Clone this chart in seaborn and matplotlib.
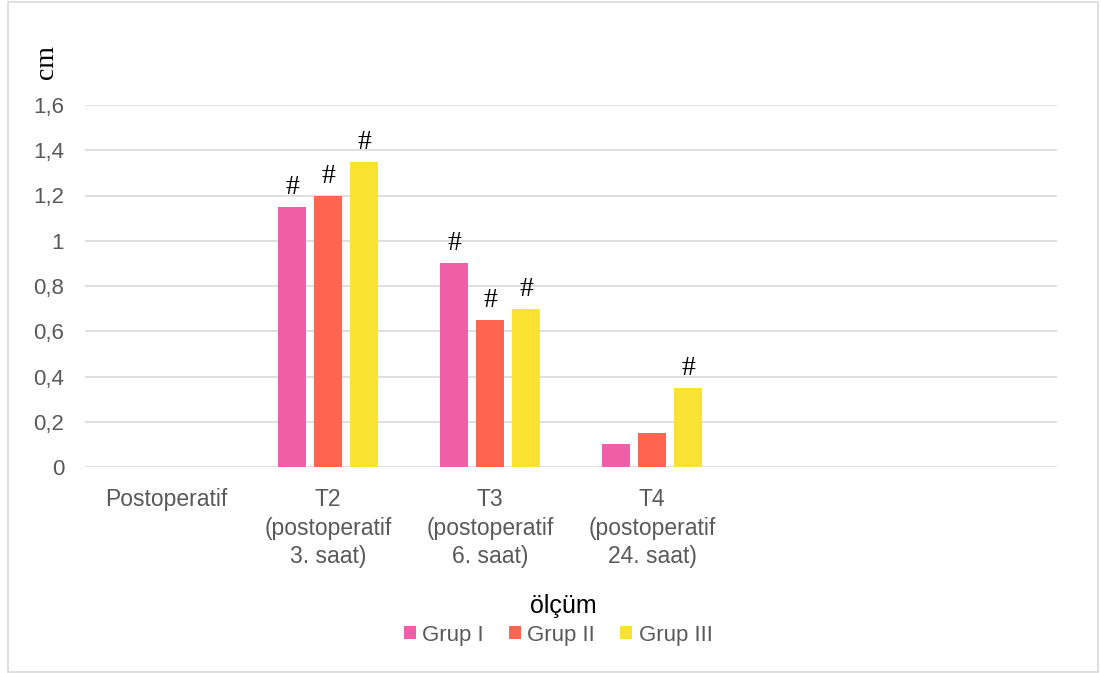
import matplotlib
matplotlib.use("Agg")
import matplotlib.pyplot as plt
from matplotlib.patches import Rectangle
import seaborn as sns
import pandas as pd

# Measurement times (two trailing empty slots on the category axis)
categories = [
    "Postoperatif",
    "T2\n(postoperatif\n3. saat)",
    "T3\n(postoperatif\n6. saat)",
    "T4\n(postoperatif\n24. saat)",
    " ",
    "  ",
]
measured = categories[:4]
groups = ["Grup I", "Grup II", "Grup III"]

grup1 = [0.0, 1.15, 0.90, 0.10]
grup2 = [0.0, 1.20, 0.65, 0.15]
grup3 = [0.0, 1.35, 0.70, 0.35]

# significance marks (#) per group and time point
sig1 = [False, True, True, False]
sig2 = [False, True, True, False]
sig3 = [False, True, True, True]

yticks = [0, 0.2, 0.4, 0.6, 0.8, 1.0, 1.2, 1.4, 1.6]
colors = ["#EF5FA7", "#FF6550", "#F9E231"]

rows = []
for g, vals in zip(groups, [grup1, grup2, grup3]):
    for c, v in zip(measured, vals):
        rows.append({"olcum": c, "grup": g, "cm": v})
df = pd.DataFrame(rows)

sns.set_theme(style="white")
plt.rcParams["font.family"] = ["Liberation Sans", "DejaVu Sans"]

W, H = 1101, 673
fig = plt.figure(figsize=(W / 100, H / 100), dpi=100)
ax = fig.add_axes([85 / W, 1 - 467 / H, (1057 - 85) / W, (467 - 105) / H])

sns.barplot(
    data=df, x="olcum", y="cm", hue="grup", order=categories,
    hue_order=groups, palette=colors, saturation=1, width=0.667, gap=0.2,
    linewidth=0, errorbar=None, legend=False, ax=ax, zorder=3,
)

ax.set_xlim(-0.5, len(categories) - 0.5)
ax.set_ylim(0, 1.6)
ax.set_yticks(yticks)
ax.set_yticklabels([f"{v:g}".replace(".", ",") for v in yticks])
ax.yaxis.grid(True, color="#D9D9D9", linewidth=1.2, zorder=0)
ax.xaxis.grid(False)
for s in ax.spines.values():
    s.set_visible(False)
ax.set_axisbelow(True)
ax.tick_params(axis="both", length=0, labelcolor="#595959")
ax.tick_params(axis="y", pad=15, labelsize=16)
ax.tick_params(axis="x", pad=15, labelsize=16.5)
for lbl in ax.get_xticklabels():
    lbl.set_linespacing(1.32)
ax.set_xlabel("")
ax.set_ylabel("")

# "#" marks above significant bars
for cont, flags in zip(ax.containers, [sig1, sig2, sig3]):
    for bar, flag in zip(cont.patches, flags):
        if flag:
            ax.annotate(
                "#", (bar.get_x() + bar.get_width() / 2, bar.get_height()),
                xytext=(0, 5), textcoords="offset points",
                ha="center", va="bottom", fontsize=20,
                family="Liberation Serif", color="black",
            )

# axis titles
fig.text(46 / W, 1 - 62 / H, "cm", rotation=90, ha="center", va="center",
         fontsize=20, family="Liberation Serif", color="black")
fig.text(563 / W, 1 - 606 / H, "ölçüm", ha="center", va="center",
         fontsize=18, color="black")

handles = [Rectangle((0, 0), 1, 1, facecolor=c, edgecolor="none") for c in colors]
leg = fig.legend(
    handles, groups, loc="center", bbox_to_anchor=(558 / W, 1 - 635 / H),
    ncol=3, frameon=False, fontsize=16, handlelength=0.55, handleheight=0.55,
    handletextpad=0.3, columnspacing=1.1, borderaxespad=0, borderpad=0,
)
for t in leg.get_texts():
    t.set_color("#595959")

# chart frame
fig.patches.append(Rectangle((8 / W, 1 / H), (1098 - 8) / W, (671 - 1) / H,
                             transform=fig.transFigure, fill=False,
                             edgecolor="#D9D9D9", linewidth=1.2))

fig.savefig("out.png", dpi=100, facecolor="white")
